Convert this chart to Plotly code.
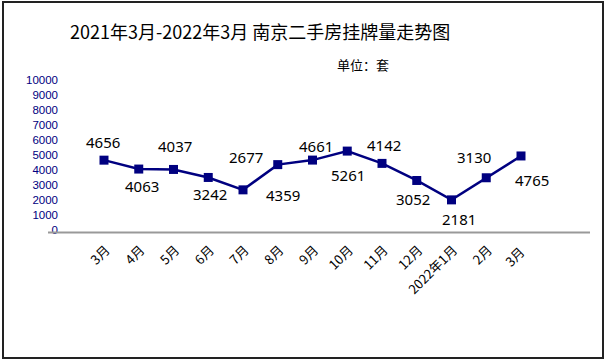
import plotly.graph_objects as go

# ---- data ----
months = ["3月", "4月", "5月", "6月", "7月", "8月", "9月", "10月", "11月", "12月", "2022年1月", "2月", "3月 "]
listings = [4656, 4063, 4037, 3503, 2677, 4359, 4661, 5261, 4441, 3302, 2009, 3483, 4936]
label_text = ["4656", "4063", "4037", "3242", "2677", "4359", "4661", "5261", "4142", "3052", "2181", "3130", "4765"]
y_ticks = [0, 1000, 2000, 3000, 4000, 5000, 6000, 7000, 8000, 9000, 10000]

W_FIG, H_FIG = 607, 364
L, R = 61, 590          # plot area left/right pixel
T, B = 80, 230          # plot area top/bottom pixel
PW, PH = R - L, B - T

def px(xp):
    return (xp - L) / PW

def py(yp):
    return (B - yp) / PH

# category index 0 at x=104, index 12 at x=521
step = (521 - 104) / 12
x0 = -(104 - L) / step
x1 = 12 + (R - 521) / step

label_dx = [-1, 3, 1, 2, 3, 5, 3, 1, 2, -4, 7, -12, 11]
label_dy = [-18, 17, -23, 17, -33, 30, -14, 24, -18, 19, 19, -21, 24]

NAVY = "#000080"
fig = go.Figure()
fig.add_trace(go.Scatter(
    x=list(range(len(months))), y=listings, mode="lines+markers",
    line=dict(color=NAVY, width=2.5),
    marker=dict(symbol="square", size=9, color=NAVY),
    hoverinfo="skip", showlegend=False, cliponaxis=False,
))

annotations = []
for i, (v, t) in enumerate(zip(listings, label_text)):
    annotations.append(dict(
        x=i, y=v, xref="x", yref="y", text=t, showarrow=False,
        xshift=label_dx[i], yshift=-label_dy[i],
        font=dict(family="Noto Sans, Noto Sans CJK SC", size=15, color="#000000"),
        xanchor="center", yanchor="middle",
    ))

annotations.append(dict(
    x=px(260), y=py(31), xref="paper", yref="paper",
    text="2021年3月-2022年3月 南京二手房挂牌量走势图", showarrow=False,
    font=dict(family="Noto Sans CJK SC", size=18, color="#000000"),
    xanchor="center", yanchor="middle",
))
annotations.append(dict(
    x=px(363), y=py(64), xref="paper", yref="paper",
    text="单位：套", showarrow=False,
    font=dict(family="Noto Sans CJK SC", size=13, color="#000000"),
    xanchor="center", yanchor="middle",
))

shapes = [
    dict(type="line", xref="paper", yref="paper", x0=px(48), x1=px(590),
         y0=py(232.5), y1=py(232.5), line=dict(color="#999999", width=2)),
    dict(type="rect", xref="paper", yref="paper", x0=px(3), x1=px(603),
         y0=py(2), y1=py(358), line=dict(color="#222222", width=2)),
]

fig.update_layout(
    width=W_FIG, height=H_FIG,
    margin=dict(l=L, r=W_FIG - R, t=T, b=H_FIG - B, pad=0),
    paper_bgcolor="#ffffff", plot_bgcolor="#ffffff",
    annotations=annotations, shapes=shapes,
    xaxis=dict(
        tickmode="array", tickvals=list(range(len(months))), ticktext=months,
        range=[x0, x1], showgrid=False, zeroline=False, showline=False,
        tickangle=-45, ticks="", ticklabelstandoff=9, ticklabelshift=2,
        tickfont=dict(family="Noto Sans CJK SC", size=13, color="#000000"),
    ),
    yaxis=dict(
        range=[0, 10000], tickmode="array", tickvals=y_ticks,
        ticktext=[str(v) for v in y_ticks],
        showgrid=False, zeroline=False,
        showline=False, ticks="", ticklabelstandoff=2,
        tickfont=dict(family="Liberation Sans", size=11.5, color=NAVY),
    ),
)

fig.write_html(
    "out.html",
    config={"displayModeBar": False, "staticPlot": True},
    post_script="document.body.style.margin='0';document.body.style.padding='0';",
)
